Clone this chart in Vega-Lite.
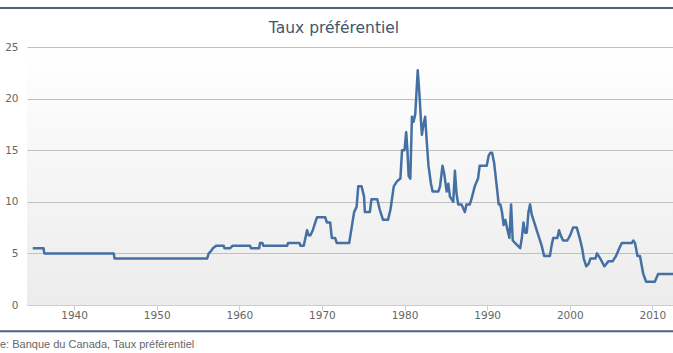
{
  "$schema": "https://vega.github.io/schema/vega-lite/v6.json",
  "width": 646,
  "height": 258,
  "autosize": {"type": "none"},
  "padding": {"left": 27, "top": 47, "right": 0, "bottom": 48},
  "background": "white",
  "title": {
    "text": "Taux préférentiel",
    "font": "DejaVu Sans",
    "fontSize": 15.5,
    "fontWeight": "normal",
    "color": "#3e576f",
    "anchor": "middle",
    "baseline": "alphabetic",
    "dx": -16,
    "dy": 45
  },
  "config": {
    "view": {
      "stroke": null,
      "fill": {
        "gradient": "linear",
        "x1": 0, "y1": 0, "x2": 0, "y2": 1,
        "stops": [
          {"offset": 0, "color": "#ffffff"},
          {"offset": 1, "color": "#ececec"}
        ]
      }
    }
  },
  "layer": [
    {
      "data": {"values": [
        {"year": 1935.0, "rate": 5.5}, {"year": 1936.3, "rate": 5.5}, {"year": 1936.4, "rate": 5.0},
        {"year": 1944.8, "rate": 5.0}, {"year": 1944.9, "rate": 4.5}, {"year": 1956.1, "rate": 4.5},
        {"year": 1956.3, "rate": 5.0}, {"year": 1956.6, "rate": 5.25}, {"year": 1956.8, "rate": 5.5},
        {"year": 1957.2, "rate": 5.75}, {"year": 1958.1, "rate": 5.75}, {"year": 1958.2, "rate": 5.5},
        {"year": 1958.9, "rate": 5.5}, {"year": 1959.2, "rate": 5.75}, {"year": 1961.3, "rate": 5.75},
        {"year": 1961.4, "rate": 5.5}, {"year": 1962.4, "rate": 5.5}, {"year": 1962.5, "rate": 6.0},
        {"year": 1962.8, "rate": 6.0}, {"year": 1962.9, "rate": 5.75}, {"year": 1965.8, "rate": 5.75},
        {"year": 1965.9, "rate": 6.0}, {"year": 1967.3, "rate": 6.0}, {"year": 1967.4, "rate": 5.75},
        {"year": 1967.8, "rate": 5.75}, {"year": 1968.2, "rate": 7.25}, {"year": 1968.4, "rate": 6.75},
        {"year": 1968.6, "rate": 6.75}, {"year": 1968.9, "rate": 7.25}, {"year": 1969.2, "rate": 8.0},
        {"year": 1969.4, "rate": 8.5}, {"year": 1970.4, "rate": 8.5}, {"year": 1970.6, "rate": 8.0},
        {"year": 1971.0, "rate": 8.0}, {"year": 1971.2, "rate": 6.5}, {"year": 1971.6, "rate": 6.5},
        {"year": 1971.8, "rate": 6.0}, {"year": 1973.3, "rate": 6.0}, {"year": 1973.6, "rate": 7.5},
        {"year": 1973.9, "rate": 9.0}, {"year": 1974.2, "rate": 9.5}, {"year": 1974.4, "rate": 11.5},
        {"year": 1974.8, "rate": 11.5}, {"year": 1975.1, "rate": 10.5}, {"year": 1975.2, "rate": 9.0},
        {"year": 1975.8, "rate": 9.0}, {"year": 1976.0, "rate": 10.25}, {"year": 1976.7, "rate": 10.25},
        {"year": 1977.0, "rate": 9.25}, {"year": 1977.4, "rate": 8.25}, {"year": 1978.0, "rate": 8.25},
        {"year": 1978.3, "rate": 9.25}, {"year": 1978.7, "rate": 11.5}, {"year": 1979.1, "rate": 12.0},
        {"year": 1979.5, "rate": 12.25}, {"year": 1979.7, "rate": 15.0}, {"year": 1980.0, "rate": 15.0},
        {"year": 1980.2, "rate": 16.75}, {"year": 1980.35, "rate": 15.0}, {"year": 1980.5, "rate": 12.5},
        {"year": 1980.7, "rate": 12.25}, {"year": 1980.9, "rate": 18.25}, {"year": 1981.1, "rate": 17.75},
        {"year": 1981.3, "rate": 18.5}, {"year": 1981.6, "rate": 22.75}, {"year": 1981.8, "rate": 20.5},
        {"year": 1982.0, "rate": 17.75}, {"year": 1982.1, "rate": 16.5}, {"year": 1982.3, "rate": 17.5},
        {"year": 1982.5, "rate": 18.25}, {"year": 1982.7, "rate": 15.75}, {"year": 1982.9, "rate": 13.5},
        {"year": 1983.2, "rate": 11.75}, {"year": 1983.4, "rate": 11.0}, {"year": 1984.1, "rate": 11.0},
        {"year": 1984.3, "rate": 11.5}, {"year": 1984.6, "rate": 13.5}, {"year": 1984.8, "rate": 12.75},
        {"year": 1985.1, "rate": 11.0}, {"year": 1985.3, "rate": 11.75}, {"year": 1985.5, "rate": 10.5},
        {"year": 1985.9, "rate": 10.0}, {"year": 1986.1, "rate": 13.0}, {"year": 1986.3, "rate": 10.75},
        {"year": 1986.5, "rate": 9.75}, {"year": 1986.9, "rate": 9.75}, {"year": 1987.3, "rate": 9.0},
        {"year": 1987.5, "rate": 9.75}, {"year": 1987.9, "rate": 9.75}, {"year": 1988.1, "rate": 10.25},
        {"year": 1988.5, "rate": 11.5}, {"year": 1988.9, "rate": 12.25}, {"year": 1989.1, "rate": 13.5},
        {"year": 1989.95, "rate": 13.5}, {"year": 1990.2, "rate": 14.5}, {"year": 1990.4, "rate": 14.75},
        {"year": 1990.6, "rate": 14.75}, {"year": 1990.85, "rate": 13.75}, {"year": 1991.2, "rate": 11.25},
        {"year": 1991.4, "rate": 9.75}, {"year": 1991.6, "rate": 9.75}, {"year": 1991.8, "rate": 9.0},
        {"year": 1992.0, "rate": 7.75}, {"year": 1992.2, "rate": 8.25}, {"year": 1992.4, "rate": 7.5},
        {"year": 1992.7, "rate": 6.5}, {"year": 1992.9, "rate": 9.75}, {"year": 1993.1, "rate": 6.25},
        {"year": 1993.4, "rate": 6.0}, {"year": 1993.7, "rate": 5.75}, {"year": 1994.0, "rate": 5.5},
        {"year": 1994.2, "rate": 6.5}, {"year": 1994.4, "rate": 8.0}, {"year": 1994.6, "rate": 7.0},
        {"year": 1994.8, "rate": 7.0}, {"year": 1995.0, "rate": 9.0}, {"year": 1995.2, "rate": 9.75},
        {"year": 1995.4, "rate": 8.75}, {"year": 1995.7, "rate": 8.0}, {"year": 1996.0, "rate": 7.25},
        {"year": 1996.3, "rate": 6.5}, {"year": 1996.6, "rate": 5.75}, {"year": 1996.9, "rate": 4.75},
        {"year": 1997.6, "rate": 4.75}, {"year": 1997.8, "rate": 5.75}, {"year": 1998.0, "rate": 6.5},
        {"year": 1998.5, "rate": 6.5}, {"year": 1998.7, "rate": 7.25}, {"year": 1998.9, "rate": 6.75},
        {"year": 1999.2, "rate": 6.25}, {"year": 1999.7, "rate": 6.25}, {"year": 2000.05, "rate": 6.75},
        {"year": 2000.4, "rate": 7.5}, {"year": 2000.85, "rate": 7.5}, {"year": 2001.2, "rate": 6.5},
        {"year": 2001.5, "rate": 5.5}, {"year": 2001.7, "rate": 4.5}, {"year": 2002.0, "rate": 3.75},
        {"year": 2002.3, "rate": 4.0}, {"year": 2002.5, "rate": 4.5}, {"year": 2003.1, "rate": 4.5},
        {"year": 2003.3, "rate": 5.0}, {"year": 2003.7, "rate": 4.5}, {"year": 2004.2, "rate": 3.75},
        {"year": 2004.7, "rate": 4.25}, {"year": 2005.2, "rate": 4.25}, {"year": 2005.6, "rate": 4.75},
        {"year": 2006.0, "rate": 5.5}, {"year": 2006.3, "rate": 6.0}, {"year": 2007.5, "rate": 6.0},
        {"year": 2007.7, "rate": 6.25}, {"year": 2007.9, "rate": 6.0}, {"year": 2008.2, "rate": 4.75},
        {"year": 2008.5, "rate": 4.75}, {"year": 2008.9, "rate": 3.0}, {"year": 2009.25, "rate": 2.25},
        {"year": 2010.3, "rate": 2.25}, {"year": 2010.7, "rate": 3.0}, {"year": 2012.6, "rate": 3.0}
      ]},
      "mark": {"type": "line", "color": "#4470a3", "strokeWidth": 2.5, "strokeJoin": "round", "clip": true},
      "encoding": {
        "x": {
          "field": "year", "type": "quantitative",
          "scale": {"domain": [1934.3, 2012.5], "nice": false, "zero": false},
          "axis": {
            "title": null, "values": [1940, 1950, 1960, 1970, 1980, 1990, 2000, 2010],
            "format": "d", "grid": false,
            "domainColor": "#c0d0e0", "tickColor": "#c0d0e0", "tickSize": 5,
            "labelColor": "#666666", "labelFont": "DejaVu Sans", "labelFontSize": 10.5,
            "labelPadding": 0
          }
        },
        "y": {
          "field": "rate", "type": "quantitative",
          "scale": {"domain": [0, 25], "nice": false},
          "axis": {
            "title": null, "values": [0, 5, 10, 15, 20, 25],
            "grid": true, "gridColor": "#c0c0c0", "domain": false, "ticks": false,
            "labelColor": "#666666", "labelFont": "DejaVu Sans", "labelFontSize": 10.5,
            "labelPadding": 9
          }
        }
      }
    },
    {
      "data": {"values": [{"pos": "top", "x1": 1920, "x2": 2025, "y": 28.77}, {"pos": "bottom", "x1": 1920, "x2": 2025, "y": -2.54}]},
      "mark": {"type": "rule", "color": "#4d6280", "strokeWidth": 2, "clip": false},
      "encoding": {
        "x": {"field": "x1", "type": "quantitative"},
        "x2": {"field": "x2"},
        "y": {"field": "y", "type": "quantitative"}
      }
    },
    {
      "data": {"values": [{"label": "e: Banque du Canada, Taux préférentiel", "x": 1931.03, "y": -3.9}]},
      "mark": {"type": "text", "font": "Liberation Sans", "fontSize": 11, "color": "#666666", "align": "left", "baseline": "middle", "clip": false},
      "encoding": {
        "x": {"field": "x", "type": "quantitative"},
        "y": {"field": "y", "type": "quantitative"},
        "text": {"field": "label"}
      }
    }
  ]
}
